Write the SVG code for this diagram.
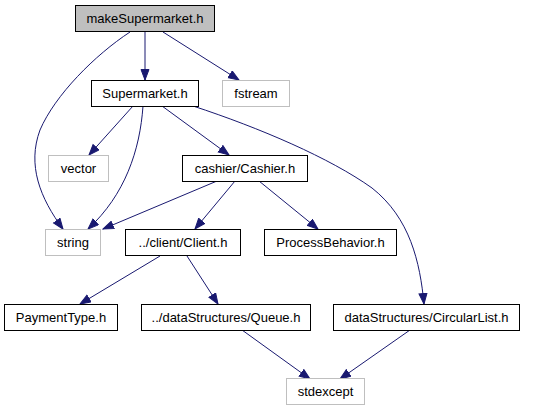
<svg xmlns="http://www.w3.org/2000/svg" width="533" height="411" viewBox="0 0 533 411">
<defs>
<marker id="ah" markerUnits="userSpaceOnUse" markerWidth="12" markerHeight="10" refX="11" refY="4.5" orient="auto">
<polygon points="0.5,0.5 11,4.5 0.5,8.5" fill="#191970" stroke="#191970" stroke-width="1"/>
</marker>
</defs>
<style>
.n rect{fill:#fff;stroke:#000;stroke-width:1}
.g rect{fill:#fff;stroke:#bfbfbf;stroke-width:1}
.root rect{fill:#bfbfbf;stroke:#000}
text{font-family:"Liberation Sans",Arial,sans-serif;font-size:13px;text-anchor:middle;fill:#000}
.e path{fill:none;stroke:#191970;stroke-width:1;marker-end:url(#ah)}
</style>
<rect width="533" height="411" fill="#fff"/>
<g class="e" id="edges">
<path d="M145,32 L145,80"/>
<path d="M163,32 L239,80"/>
<path d="M130,32 C95,55 55,95 40,130 C27,165 40,198 63,229"/>
<path d="M133,106 L89,155"/>
<path d="M143,106 C140,150 125,195 88,229"/>
<path d="M162,106 L229,155"/>
<path d="M193,106 C260,128 330,158 372,188 C410,218 420,262 424,304"/>
<path d="M217,181 L103,229"/>
<path d="M235,181 L195,229"/>
<path d="M259,181 L318,229"/>
<path d="M160,256 L80,304"/>
<path d="M187,256 L218,304"/>
<path d="M242,330 L310,379"/>
<path d="M410,330 L340,379"/>
</g>
<g id="makeSupermarket" class="n root"><rect x="75.5" y="5.5" width="139" height="26"/><text x="145" y="23">makeSupermarket.h</text></g>
<g id="Supermarket" class="n"><rect x="91.5" y="80.5" width="107" height="26"/><text x="145" y="98">Supermarket.h</text></g>
<g id="fstream" class="g"><rect x="222.5" y="80.5" width="67" height="26"/><text x="256" y="98">fstream</text></g>
<g id="vector" class="g"><rect x="48.5" y="155.5" width="60" height="26"/><text x="78.5" y="173">vector</text></g>
<g id="Cashier" class="n"><rect x="182.5" y="155.5" width="125" height="26"/><text x="245" y="173">cashier/Cashier.h</text></g>
<g id="string" class="g"><rect x="45.5" y="229.5" width="55" height="26"/><text x="73" y="247">string</text></g>
<g id="Client" class="n"><rect x="125.5" y="229.5" width="115" height="26"/><text x="183" y="247">../client/Client.h</text></g>
<g id="ProcessBehavior" class="n"><rect x="264.5" y="229.5" width="132" height="26"/><text x="330.5" y="247">ProcessBehavior.h</text></g>
<g id="PaymentType" class="n"><rect x="4.5" y="304.5" width="113" height="26"/><text x="61" y="322">PaymentType.h</text></g>
<g id="Queue" class="n"><rect x="141.5" y="304.5" width="169" height="26"/><text x="226" y="322">../dataStructures/Queue.h</text></g>
<g id="CircularList" class="n"><rect x="333.5" y="304.5" width="186" height="26"/><text x="426.5" y="322">dataStructures/CircularList.h</text></g>
<g id="stdexcept" class="g"><rect x="286.5" y="378.5" width="78" height="26"/><text x="325.5" y="396">stdexcept</text></g>
</svg>
